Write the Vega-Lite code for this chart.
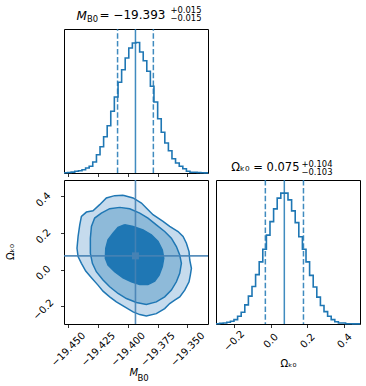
{
  "$schema": "https://vega.github.io/schema/vega-lite/v6.json",
  "padding": 5,
  "background": "white",
  "config": {
    "font": "DejaVu Sans",
    "view": {"stroke": "black", "strokeWidth": 1},
    "axis": {"grid": false, "domain": false, "tickColor": "black", "tickSize": 3.5, "tickWidth": 0.8, "labelFontSize": 10, "labelColor": "black", "labelOverlap": false, "titleColor": "black", "titleFontWeight": "normal", "titleFontSize": 10, "labelFont": "DejaVu Sans", "titleFont": "DejaVu Sans"},
    "title": {"color": "black", "fontWeight": "normal", "font": "DejaVu Sans"}
  },
  "datasets": {
    "histM": [
      {"x": -19.4534, "h": 0.3}, {"x": -19.4504, "h": 0.5}, {"x": -19.4474, "h": 0.9}, {"x": -19.4444, "h": 1.7},
      {"x": -19.4413, "h": 2.3}, {"x": -19.4383, "h": 3.3}, {"x": -19.4353, "h": 5}, {"x": -19.4323, "h": 6.7},
      {"x": -19.4293, "h": 11}, {"x": -19.4262, "h": 18.3}, {"x": -19.4232, "h": 26.3}, {"x": -19.4202, "h": 36.3},
      {"x": -19.4172, "h": 47.3}, {"x": -19.4142, "h": 61.7}, {"x": -19.4112, "h": 76}, {"x": -19.4081, "h": 90.7},
      {"x": -19.4051, "h": 103.3}, {"x": -19.4021, "h": 115}, {"x": -19.3991, "h": 125}, {"x": -19.3961, "h": 130},
      {"x": -19.3931, "h": 130.5}, {"x": -19.3900, "h": 121}, {"x": -19.3870, "h": 112.3}, {"x": -19.3840, "h": 101.7},
      {"x": -19.3810, "h": 86.7}, {"x": -19.3780, "h": 71}, {"x": -19.3749, "h": 54.3}, {"x": -19.3719, "h": 40.7},
      {"x": -19.3689, "h": 30}, {"x": -19.3659, "h": 22.3}, {"x": -19.3629, "h": 14.3}, {"x": -19.3599, "h": 10},
      {"x": -19.3568, "h": 6.7}, {"x": -19.3538, "h": 4.3}, {"x": -19.3508, "h": 1.7}, {"x": -19.3478, "h": 0.8},
      {"x": -19.3448, "h": 0.7}, {"x": -19.3418, "h": 0.5}, {"x": -19.3387, "h": 0.2}, {"x": -19.3357, "h": 0.1},
      {"x": -19.3327, "h": 0.1}
    ],
    "histO": [
      {"x": -0.2960, "h": 0.3}, {"x": -0.2765, "h": 0.7}, {"x": -0.2569, "h": 1}, {"x": -0.2374, "h": 1.7},
      {"x": -0.2178, "h": 2.7}, {"x": -0.1983, "h": 4.3}, {"x": -0.1787, "h": 7.7}, {"x": -0.1592, "h": 11.7},
      {"x": -0.1396, "h": 19}, {"x": -0.1201, "h": 27.7}, {"x": -0.1005, "h": 37.3}, {"x": -0.0810, "h": 49},
      {"x": -0.0614, "h": 61.7}, {"x": -0.0419, "h": 74.3}, {"x": -0.0223, "h": 88.3}, {"x": -0.0028, "h": 101.7},
      {"x": 0.0168, "h": 114.3}, {"x": 0.0363, "h": 125}, {"x": 0.0559, "h": 130}, {"x": 0.0755, "h": 130},
      {"x": 0.0950, "h": 123.3}, {"x": 0.1146, "h": 112.3}, {"x": 0.1341, "h": 100.7}, {"x": 0.1537, "h": 86.7},
      {"x": 0.1732, "h": 74.3}, {"x": 0.1928, "h": 61.7}, {"x": 0.2123, "h": 48.3}, {"x": 0.2319, "h": 36.7},
      {"x": 0.2514, "h": 26.7}, {"x": 0.2710, "h": 18.3}, {"x": 0.2905, "h": 12.3}, {"x": 0.3101, "h": 7.7},
      {"x": 0.3296, "h": 4.3}, {"x": 0.3492, "h": 2.3}, {"x": 0.3687, "h": 1}, {"x": 0.3883, "h": 1},
      {"x": 0.4078, "h": 0.3}, {"x": 0.4274, "h": 0.3}, {"x": 0.4469, "h": 0.1}, {"x": 0.4665, "h": 0.1},
      {"x": 0.4860, "h": 0.1}
    ],
    "qM": [{"v": -19.4085, "kind": "q"}, {"v": -19.3935, "kind": "med"}, {"v": -19.3785, "kind": "q"}],
    "qO": [{"v": -0.028, "kind": "q"}, {"v": 0.075, "kind": "med"}, {"v": 0.179, "kind": "q"}],
    "truth": [{"m": -19.3935, "o": 0.075}],
    "cOuter": [
      {"i": 1, "x": -19.4039, "y": 0.4055}, {"i": 2, "x": -19.3955, "y": 0.3909}, {"i": 3, "x": -19.3885, "y": 0.3634},
      {"i": 4, "x": -19.3844, "y": 0.336}, {"i": 5, "x": -19.3788, "y": 0.2994}, {"i": 6, "x": -19.3704, "y": 0.2628},
      {"i": 7, "x": -19.3648, "y": 0.2354}, {"i": 8, "x": -19.3578, "y": 0.2079}, {"i": 9, "x": -19.3536, "y": 0.1805},
      {"i": 10, "x": -19.3508, "y": 0.1439}, {"i": 11, "x": -19.3486, "y": 0.0982}, {"i": 12, "x": -19.3480, "y": 0.0524},
      {"i": 13, "x": -19.3466, "y": 0.0067}, {"i": 14, "x": -19.3475, "y": -0.0299}, {"i": 15, "x": -19.3486, "y": -0.0665},
      {"i": 16, "x": -19.3522, "y": -0.1122}, {"i": 17, "x": -19.3564, "y": -0.1488}, {"i": 18, "x": -19.3606, "y": -0.1671},
      {"i": 19, "x": -19.3648, "y": -0.1854}, {"i": 20, "x": -19.3690, "y": -0.2128}, {"i": 21, "x": -19.3760, "y": -0.2403},
      {"i": 22, "x": -19.3844, "y": -0.2531}, {"i": 23, "x": -19.3899, "y": -0.2457}, {"i": 24, "x": -19.3955, "y": -0.2311},
      {"i": 25, "x": -19.4025, "y": -0.2037}, {"i": 26, "x": -19.4095, "y": -0.1762}, {"i": 27, "x": -19.4151, "y": -0.1488},
      {"i": 28, "x": -19.4207, "y": -0.1177}, {"i": 29, "x": -19.4249, "y": -0.0848}, {"i": 30, "x": -19.4304, "y": -0.0445},
      {"i": 31, "x": -19.4352, "y": -0.0079}, {"i": 32, "x": -19.4388, "y": 0.0341}, {"i": 33, "x": -19.4416, "y": 0.0707},
      {"i": 34, "x": -19.4425, "y": 0.1165}, {"i": 35, "x": -19.4416, "y": 0.1805}, {"i": 36, "x": -19.4402, "y": 0.2445},
      {"i": 37, "x": -19.4388, "y": 0.2902}, {"i": 38, "x": -19.4346, "y": 0.314}, {"i": 39, "x": -19.4291, "y": 0.3213},
      {"i": 40, "x": -19.4235, "y": 0.3543}, {"i": 41, "x": -19.4179, "y": 0.3909}, {"i": 42, "x": -19.4109, "y": 0.4037},
      {"i": 43, "x": -19.4039, "y": 0.4055}
    ],
    "cMid": [
      {"i": 1, "x": -19.4067, "y": 0.3396}, {"i": 2, "x": -19.3983, "y": 0.3323}, {"i": 3, "x": -19.3899, "y": 0.3085},
      {"i": 4, "x": -19.3830, "y": 0.2811}, {"i": 5, "x": -19.3760, "y": 0.2445}, {"i": 6, "x": -19.3690, "y": 0.2079},
      {"i": 7, "x": -19.3634, "y": 0.1713}, {"i": 8, "x": -19.3592, "y": 0.1256}, {"i": 9, "x": -19.3564, "y": 0.0799},
      {"i": 10, "x": -19.3550, "y": 0.0341}, {"i": 11, "x": -19.3564, "y": -0.0207}, {"i": 12, "x": -19.3592, "y": -0.0665},
      {"i": 13, "x": -19.3634, "y": -0.1122}, {"i": 14, "x": -19.3690, "y": -0.1488}, {"i": 15, "x": -19.3760, "y": -0.1762},
      {"i": 16, "x": -19.3844, "y": -0.1909}, {"i": 17, "x": -19.3927, "y": -0.1799}, {"i": 18, "x": -19.4011, "y": -0.1580},
      {"i": 19, "x": -19.4081, "y": -0.1305}, {"i": 20, "x": -19.4151, "y": -0.0939}, {"i": 21, "x": -19.4207, "y": -0.0573},
      {"i": 22, "x": -19.4263, "y": -0.0116}, {"i": 23, "x": -19.4296, "y": 0.0341}, {"i": 24, "x": -19.4313, "y": 0.089},
      {"i": 25, "x": -19.4313, "y": 0.1713}, {"i": 26, "x": -19.4304, "y": 0.2354}, {"i": 27, "x": -19.4277, "y": 0.2811},
      {"i": 28, "x": -19.4221, "y": 0.3085}, {"i": 29, "x": -19.4151, "y": 0.3323}, {"i": 30, "x": -19.4067, "y": 0.3396}
    ],
    "cInner": [
      {"i": 1, "x": -19.4025, "y": 0.2445}, {"i": 2, "x": -19.3955, "y": 0.2354}, {"i": 3, "x": -19.3872, "y": 0.2171},
      {"i": 4, "x": -19.3802, "y": 0.1896}, {"i": 5, "x": -19.3746, "y": 0.1530}, {"i": 6, "x": -19.3710, "y": 0.1073},
      {"i": 7, "x": -19.3698, "y": 0.0616}, {"i": 8, "x": -19.3710, "y": 0.0159}, {"i": 9, "x": -19.3737, "y": -0.0299},
      {"i": 10, "x": -19.3774, "y": -0.0628}, {"i": 11, "x": -19.3830, "y": -0.0811}, {"i": 12, "x": -19.3899, "y": -0.0811},
      {"i": 13, "x": -19.3969, "y": -0.0665}, {"i": 14, "x": -19.4039, "y": -0.0445}, {"i": 15, "x": -19.4109, "y": -0.0116},
      {"i": 16, "x": -19.4165, "y": 0.025}, {"i": 17, "x": -19.4187, "y": 0.0616}, {"i": 18, "x": -19.4184, "y": 0.1165},
      {"i": 19, "x": -19.4165, "y": 0.1622}, {"i": 20, "x": -19.4123, "y": 0.1988}, {"i": 21, "x": -19.4081, "y": 0.2299},
      {"i": 22, "x": -19.4025, "y": 0.2445}
    ]
  },
  "columns": 2,
  "bounds": "flush",
  "align": "all",
  "spacing": {"row": 7, "column": 8},
  "concat": [
    {
      "width": 144,
      "height": 144,
      "resolve": {"axis": {"x": "independent", "y": "independent"}},
      "layer": [
        {
          "data": {"name": "histM"},
          "mark": {"type": "line", "interpolate": "step-after", "color": "#1f77b4", "strokeWidth": 1.6},
          "encoding": {
            "x": {"field": "x", "type": "quantitative", "scale": {"domain": [-19.4534, -19.3327], "nice": false, "zero": false},
                  "axis": {"orient": "bottom", "labels": false, "values": [-19.45, -19.425, -19.4, -19.375, -19.35], "tickCount": 10, "title": "= \u221219.393", "titleAlign": "left", "titleBaseline": "alphabetic", "titleX": 35, "titleY": -154.3, "titleFontSize": 12}},
            "y": {"field": "h", "type": "quantitative", "scale": {"domain": [0, 144], "nice": false},
                  "axis": {"orient": "left", "labels": false, "ticks": false, "title": ["+0.015", "\u22120.015"], "titleAngle": 0, "titleAlign": "left", "titleBaseline": "alphabetic", "titleX": 106, "titleY": -16.3, "titleFontSize": 8.4, "titleLineHeight": 7.7}}
          }
        },
        {
          "data": {"name": "qM"},
          "mark": {"type": "rule", "color": "#1f77b4", "strokeWidth": 1.5, "opacity": 0.85},
          "encoding": {
            "x": {"field": "v", "type": "quantitative", "scale": {"domain": [-19.4534, -19.3327], "nice": false, "zero": false},
                  "axis": {"orient": "top", "labels": false, "ticks": false, "title": "M", "titleFontStyle": "italic", "titleFontSize": 12, "titleAlign": "left", "titleBaseline": "alphabetic", "titleX": 12, "titleY": -10}},
            "y": {"datum": 0, "type": "quantitative", "scale": {"domain": [0, 144], "nice": false},
                  "axis": {"orient": "right", "labels": false, "ticks": false, "title": "B0", "titleAngle": 0, "titleFontSize": 8.4, "titleAlign": "left", "titleBaseline": "alphabetic", "titleX": -121.5, "titleY": -7.6}},
            "y2": {"datum": 144},
            "strokeDash": {"field": "kind", "type": "nominal", "scale": {"domain": ["q", "med"], "range": [[5.5, 2.4], [1, 0]]}, "legend": null}
          }
        }
      ]
    },
    {
      "width": 144,
      "height": 144,
      "view": {"stroke": null},
      "data": {"name": "truth"},
      "mark": {"type": "point", "opacity": 0},
      "encoding": {
        "x": {"field": "m", "type": "quantitative", "axis": null},
        "y": {"field": "o", "type": "quantitative", "axis": null}
      }
    },
    {
      "width": 144,
      "height": 144,
      "title": {"text": "\u03a9\u2096\u2080", "orient": "left", "anchor": "middle", "frame": "group", "fontSize": 10, "offset": 15},
      "layer": [
        {
          "data": {"name": "cOuter"},
          "mark": {"type": "line", "fill": "#c6dbed", "stroke": "#1f77b4", "strokeWidth": 1.5},
          "encoding": {
            "x": {"field": "x", "type": "quantitative", "scale": {"domain": [-19.4534, -19.3327], "nice": false, "zero": false},
                  "axis": {"values": [-19.45, -19.425, -19.4, -19.375, -19.35], "tickCount": 10, "format": ".3f", "labelAngle": -45, "labelAlign": "center", "labelBaseline": "middle", "labelPadding": 21.5, "labelOverlap": false, "labelBound": false, "labelFlush": false,
                           "title": "B0", "titleFontSize": 8.5, "titleAlign": "left", "titleBaseline": "alphabetic", "titleX": 73, "titleY": 56.7}},
            "y": {"field": "y", "type": "quantitative", "scale": {"domain": [-0.297, 0.489], "nice": false, "zero": false},
                  "axis": {"values": [-0.2, 0, 0.2, 0.4], "tickCount": 10, "format": ".1f", "labelAngle": -45, "labelAlign": "center", "labelBaseline": "middle", "labelPadding": 17.5, "labelOffset": 3, "labelOverlap": false,
                           "title": "M", "titleFontStyle": "italic", "titleFontSize": 10, "titleAngle": 0, "titleAlign": "left", "titleBaseline": "alphabetic", "titleX": 65, "titleY": 195}},
            "order": {"field": "i", "type": "quantitative"}
          }
        },
        {
          "data": {"name": "cMid"},
          "mark": {"type": "line", "fill": "#8ebad9", "stroke": "#1f77b4", "strokeWidth": 1.5},
          "encoding": {
            "x": {"field": "x", "type": "quantitative", "scale": {"domain": [-19.4534, -19.3327], "nice": false, "zero": false}},
            "y": {"field": "y", "type": "quantitative", "scale": {"domain": [-0.297, 0.489], "nice": false, "zero": false}},
            "order": {"field": "i", "type": "quantitative"}
          }
        },
        {
          "data": {"name": "cInner"},
          "mark": {"type": "line", "fill": "#1f77b4", "stroke": "#1f77b4", "strokeWidth": 1.5},
          "encoding": {
            "x": {"field": "x", "type": "quantitative", "scale": {"domain": [-19.4534, -19.3327], "nice": false, "zero": false}},
            "y": {"field": "y", "type": "quantitative", "scale": {"domain": [-0.297, 0.489], "nice": false, "zero": false}},
            "order": {"field": "i", "type": "quantitative"}
          }
        },
        {
          "data": {"name": "truth"},
          "mark": {"type": "rule", "color": "#4682b4", "strokeWidth": 1.6, "opacity": 0.9},
          "encoding": {
            "x": {"field": "m", "type": "quantitative", "scale": {"domain": [-19.4534, -19.3327], "nice": false, "zero": false}}
          }
        },
        {
          "data": {"name": "truth"},
          "mark": {"type": "rule", "color": "#4682b4", "strokeWidth": 1.6, "opacity": 0.9},
          "encoding": {
            "y": {"field": "o", "type": "quantitative", "scale": {"domain": [-0.297, 0.489], "nice": false, "zero": false}}
          }
        },
        {
          "data": {"name": "truth"},
          "mark": {"type": "square", "color": "#4682b4", "size": 49, "opacity": 1},
          "encoding": {
            "x": {"field": "m", "type": "quantitative", "scale": {"domain": [-19.4534, -19.3327], "nice": false, "zero": false}},
            "y": {"field": "o", "type": "quantitative", "scale": {"domain": [-0.297, 0.489], "nice": false, "zero": false}}
          }
        }
      ]
    },
    {
      "width": 144,
      "height": 144,
      "resolve": {"axis": {"x": "independent"}},
      "layer": [
        {
          "data": {"name": "histO"},
          "mark": {"type": "line", "interpolate": "step-after", "color": "#1f77b4", "strokeWidth": 1.6},
          "encoding": {
            "x": {"field": "x", "type": "quantitative", "scale": {"domain": [-0.296, 0.486], "nice": false, "zero": false},
                  "axis": {"orient": "bottom", "values": [-0.2, 0, 0.2, 0.4], "tickCount": 10, "format": ".1f", "labelAngle": -45, "labelAlign": "center", "labelBaseline": "middle", "labelPadding": 13, "labelOverlap": false,
                           "title": "\u03a9\u2096\u2080", "titleFontSize": 10, "titlePadding": 6}},
            "y": {"field": "h", "type": "quantitative", "scale": {"domain": [0, 143], "nice": false},
                  "axis": {"labels": false, "ticks": false, "title": ["+0.104", "\u22120.103"], "titleAngle": 0, "titleAlign": "left", "titleBaseline": "alphabetic", "titleX": 85, "titleY": -13.3, "titleFontSize": 8.4, "titleLineHeight": 8}}
          }
        },
        {
          "data": {"name": "qO"},
          "mark": {"type": "rule", "color": "#1f77b4", "strokeWidth": 1.5, "opacity": 0.85},
          "encoding": {
            "x": {"field": "v", "type": "quantitative", "scale": {"domain": [-0.296, 0.486], "nice": false, "zero": false},
                  "axis": {"orient": "top", "labels": false, "ticks": false, "title": "\u03a9\u2096\u2080 = 0.075", "titleFontSize": 11.5, "titleAlign": "right", "titleBaseline": "alphabetic", "titleX": 83, "titleY": -10}},
            "strokeDash": {"field": "kind", "type": "nominal", "scale": {"domain": ["q", "med"], "range": [[5.5, 2.4], [1, 0]]}, "legend": null}
          }
        }
      ]
    }
  ]
}
